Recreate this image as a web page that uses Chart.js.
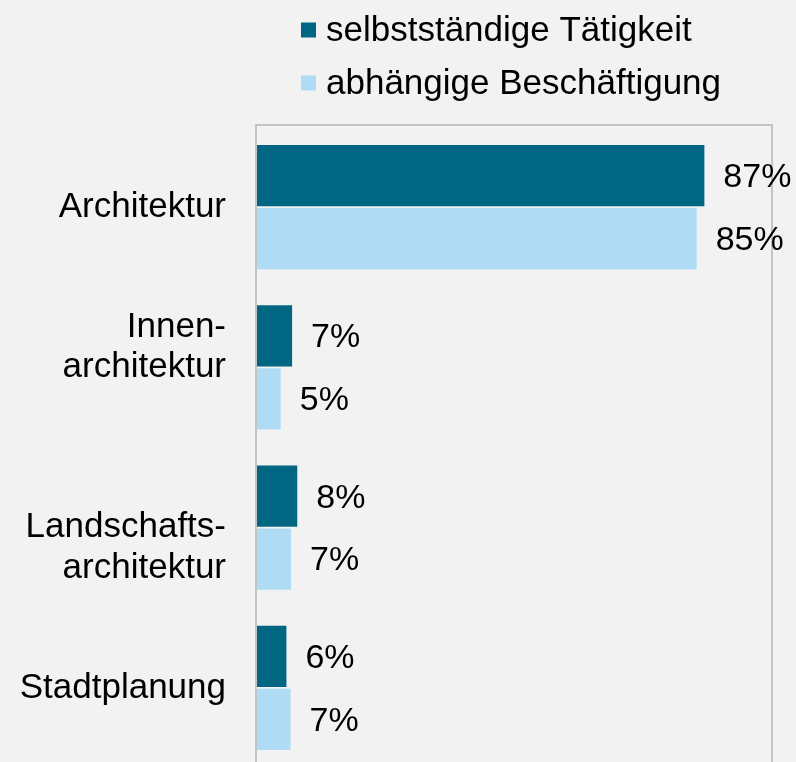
<!DOCTYPE html>
<html><head><meta charset="utf-8">
<script src="https://cdn.jsdelivr.net/npm/chart.js@4.4.0/dist/chart.umd.min.js"></script>
<style>
html,body{margin:0;padding:0;background:#f2f2f2;overflow:hidden;}
canvas{display:block;}
</style></head><body>
<canvas id="c" width="796" height="768"></canvas>
<script>
const categories = [['Architektur'], ['Innen-', 'architektur'], ['Landschafts-', 'architektur'], ['Stadtplanung']];
const seriesNames = ['selbstständige Tätigkeit', 'abhängige Beschäftigung'];
const selbststaendig = [86.7, 6.8, 7.8, 5.7];
const abhaengig = [85.2, 4.6, 6.6, 6.5];
const colors = ['#006682', '#afdcf4'];
const FONT = '"Liberation Sans", Arial, sans-serif';

const frame = {
  id: 'frame',
  beforeDatasetsDraw(chart) {
    const a = chart.chartArea, ctx = chart.ctx;
    ctx.save();
    ctx.strokeStyle = '#c4c4c4';
    ctx.lineWidth = 2;
    ctx.strokeRect(a.left - 1, a.top - 2, a.right - a.left, a.bottom - a.top + 12);
    ctx.restore();
  }
};

const valueLabels = {
  id: 'valueLabels',
  afterDatasetsDraw(chart) {
    const ctx = chart.ctx;
    ctx.save();
    ctx.font = '34px ' + FONT;
    ctx.fillStyle = '#000';
    ctx.textAlign = 'left';
    ctx.textBaseline = 'middle';
    chart.data.datasets.forEach((ds, i) => {
      chart.getDatasetMeta(i).data.forEach((el, j) => {
        ctx.fillText(Math.round(ds.data[j]) + '%', el.x + 19, el.y + 2);
      });
    });
    ctx.restore();
  }
};

const legendBoxes = {
  id: 'legendBoxes',
  afterDraw(chart) {
    const ctx = chart.ctx;
    ctx.save();
    ctx.font = '35px ' + FONT;
    ctx.textAlign = 'left';
    ctx.textBaseline = 'middle';
    const rows = [30, 83];
    chart.data.datasets.forEach((ds, i) => {
      const y = rows[i];
      ctx.fillStyle = ds.backgroundColor;
      ctx.fillRect(301, y - 7.5, 15, 15);
      ctx.fillStyle = '#000';
      ctx.fillText(ds.label, 326, y + 1);
    });
    ctx.restore();
  }
};

new Chart(document.getElementById('c'), {
  type: 'bar',
  data: {
    labels: categories,
    datasets: [
      { label: seriesNames[0], data: selbststaendig, backgroundColor: colors[0] },
      { label: seriesNames[1], data: abhaengig, backgroundColor: colors[1] }
    ]
  },
  options: {
    indexAxis: 'y',
    responsive: false,
    animation: false,
    devicePixelRatio: 1,
    categoryPercentage: 0.785,
    barPercentage: 0.975,
    layout: { padding: { top: 127, right: 23, left: 0, bottom: 0 } },
    plugins: { legend: { display: false }, tooltip: { enabled: false } },
    scales: {
      x: { display: false, min: 0, max: 100 },
      y: {
        grid: { display: false, drawTicks: false },
        border: { display: false },
        afterFit(s) { s.width = 257; s.paddingTop = 0; s.paddingBottom = 0; },
        ticks: {
          padding: 31,
          color: '#000',
          font: { family: FONT, size: 35, lineHeight: 1.15 },
          callback(value, index) {
            const lines = this.getLabelForValue(value);
            if (index === 1) return [...lines, ''];
            if (index === 2) return ['', ...lines];
            return lines;
          }
        }
      }
    }
  },
  plugins: [frame, valueLabels, legendBoxes]
});
</script>
</body></html>
